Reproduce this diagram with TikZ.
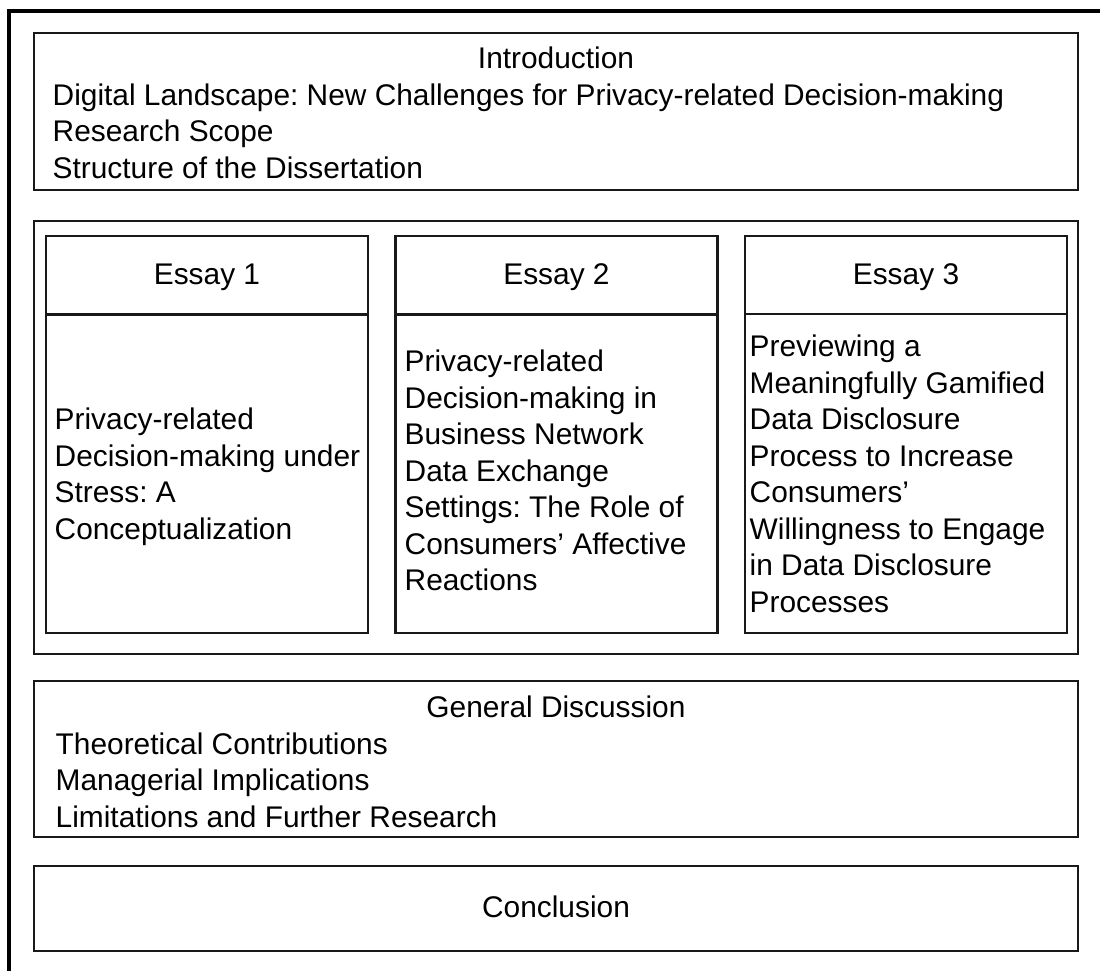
\documentclass[tikz,border=0pt]{standalone}
\usepackage{fontspec}
\setmainfont{Liberation Sans}
\frenchspacing
\tikzset{
  box/.style={draw=black!90,line width=0.6pt},
  frame/.style={draw=black,line width=0.9pt},
  txt/.style={inner sep=0pt,font=\fontsize{8.5pt}{10.4pt}\selectfont}
}
\begin{document}
\begin{tikzpicture}
  \useasboundingbox (0,0) rectangle (11,9.71);
  \draw[frame] (0.09,0) -- (0.09,9.60) -- (11,9.60);

  % introduction
  \draw[box] (0.34,7.81) rectangle (10.78,9.38);
  \node[txt,anchor=base] (introtitle) at (5.56,9.02) {Introduction};
  \foreach \l [count=\i] in {Digital Landscape: New Challenges for Privacy-related Decision-making,Research Scope,Structure of the Dissertation}
    \node[txt,anchor=base west] (intro\i) at (0.52,9.02-0.365*\i) {\l};

  % the three essays
  \draw[box] (0.34,3.17) rectangle (10.78,7.50);
  \foreach \n/\x/\tx/\ty/\gap/\lines in {
      1/0.46/0.54/5.41/0.01/{Privacy-related,Decision-making under,Stress: A,Conceptualization},
      2/3.955/4.04/5.99/0.01/{Privacy-related,Decision-making in,Business Network,Data Exchange,Settings: The Role of,Consumers’ Affective,Reactions},
      3/7.45/7.49/6.143/0/{Previewing a,Meaningfully Gamified,Data Disclosure,Process to Increase,Consumers’,Willingness to Engage,in Data Disclosure,Processes}}{
    \draw[box] (\x,6.57) rectangle (\x+3.22,7.35);
    \draw[box] (\x,3.38) rectangle (\x+3.22,6.57-\gap);
    \node[txt,anchor=base] (essay\n) at (\x+1.61,6.86) {Essay \n};
    \foreach \l [count=\i] in \lines
      \node[txt,anchor=base west] (essay\n-\i) at (\tx,\ty+0.365-0.365*\i) {\l};
  }

  % general discussion
  \draw[box] (0.34,1.34) rectangle (10.78,2.90);
  \node[txt,anchor=base] (disctitle) at (5.56,2.53) {General Discussion};
  \foreach \l [count=\i] in {Theoretical Contributions,Managerial Implications,Limitations and Further Research}
    \node[txt,anchor=base west] (disc\i) at (0.55,2.53-0.365*\i) {\l};

  % conclusion
  \draw[box] (0.34,0.20) rectangle (10.78,1.05);
  \node[txt,anchor=base] (concl) at (5.56,0.533) {Conclusion};
\end{tikzpicture}
\end{document}
